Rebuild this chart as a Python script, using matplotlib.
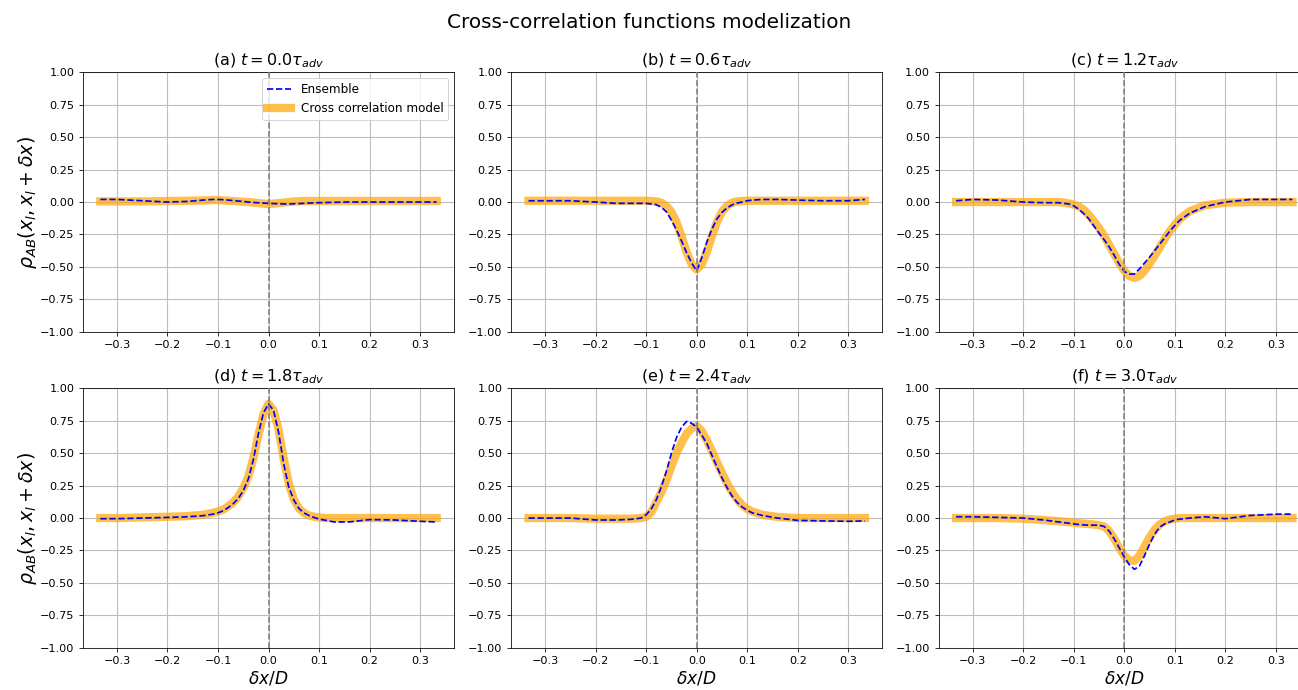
import matplotlib
matplotlib.use("Agg")
import matplotlib.pyplot as plt
import numpy as np

# Spatial separation dx/D shared by every panel
dx = [-0.333, -0.30, -0.25, -0.20, -0.16, -0.13, -0.11, -0.10, -0.09, -0.08,
      -0.07, -0.06, -0.05, -0.04, -0.03, -0.02, -0.01, 0.00, 0.01, 0.02,
      0.03, 0.04, 0.05, 0.06, 0.07, 0.08, 0.09, 0.10, 0.11, 0.13,
      0.16, 0.20, 0.25, 0.30, 0.333]

times = [0.0, 0.6, 1.2, 1.8, 2.4, 3.0]
panel_letters = ["a", "b", "c", "d", "e", "f"]

# Ensemble cross-correlation, one list per time
ens_a = [0.02, 0.02, 0.01, 0.0, 0.005, 0.015, 0.02, 0.02, 0.018, 0.015,
         0.012, 0.008, 0.005, 0.0, -0.003, -0.006, -0.008, -0.01, -0.012, -0.013,
         -0.015, -0.015, -0.013, -0.012, -0.01, -0.008, -0.006, -0.005, -0.004, -0.002,
         0.0, 0.0, 0.0, 0.0, 0.0]
ens_b = [0.01, 0.01, 0.01, 0.0, -0.01, -0.01, -0.01, -0.01, -0.015, -0.02,
         -0.04, -0.075, -0.14, -0.215, -0.30, -0.39, -0.47, -0.53, -0.43, -0.31,
         -0.21, -0.13, -0.08, -0.045, -0.022, -0.008, 0.0, 0.01, 0.015, 0.02,
         0.02, 0.015, 0.01, 0.01, 0.02]
ens_c = [0.01, 0.02, 0.015, 0.0, -0.005, -0.005, -0.015, -0.03, -0.055, -0.09,
         -0.13, -0.185, -0.24, -0.29, -0.345, -0.41, -0.48, -0.535, -0.555, -0.555,
         -0.515, -0.47, -0.425, -0.375, -0.325, -0.275, -0.225, -0.18, -0.14, -0.085,
         -0.035, 0.0, 0.02, 0.02, 0.02]
ens_d = [-0.005, -0.005, 0.0, 0.005, 0.01, 0.018, 0.03, 0.04, 0.056, 0.08,
         0.11, 0.15, 0.21, 0.30, 0.45, 0.65, 0.81, 0.88, 0.83, 0.66,
         0.42, 0.24, 0.14, 0.075, 0.04, 0.02, 0.005, -0.008, -0.015, -0.03,
         -0.03, -0.012, -0.015, -0.025, -0.03]
ens_e = [0.0, 0.0, 0.0, -0.015, -0.015, -0.01, 0.0, 0.025, 0.07, 0.14,
         0.24, 0.36, 0.50, 0.62, 0.70, 0.745, 0.73, 0.70, 0.64, 0.575,
         0.485, 0.395, 0.31, 0.235, 0.17, 0.12, 0.085, 0.06, 0.04, 0.02,
         0.0, -0.018, -0.022, -0.025, -0.022]
ens_f = [0.01, 0.01, 0.005, 0.0, -0.015, -0.03, -0.04, -0.045, -0.05, -0.053,
         -0.055, -0.055, -0.055, -0.065, -0.10, -0.16, -0.23, -0.30, -0.36, -0.395,
         -0.37, -0.29, -0.20, -0.125, -0.07, -0.045, -0.03, -0.015, -0.008, 0.0,
         0.01, -0.005, 0.02, 0.03, 0.03]

# Cross correlation model, one list per time
mod_a = [0.005, 0.005, 0.005, 0.008, 0.01, 0.012, 0.015, 0.015, 0.012, 0.01,
         0.008, 0.005, 0.002, 0.0, -0.004, -0.008, -0.012, -0.015, -0.012, -0.008,
         -0.004, 0.0, 0.004, 0.006, 0.008, 0.008, 0.008, 0.008, 0.008, 0.008,
         0.008, 0.008, 0.008, 0.008, 0.008]
mod_b = [0.01, 0.01, 0.01, 0.01, 0.01, 0.01, 0.01, 0.01, 0.008, 0.005,
         -0.005, -0.03, -0.075, -0.155, -0.265, -0.385, -0.48, -0.52, -0.48, -0.385,
         -0.265, -0.155, -0.075, -0.03, -0.005, 0.005, 0.008, 0.01, 0.01, 0.01,
         0.01, 0.01, 0.01, 0.01, 0.01]
mod_c = [0.0, 0.0, 0.0, 0.0, 0.0, 0.0, -0.01, -0.02, -0.035, -0.06,
         -0.10, -0.15, -0.20, -0.26, -0.33, -0.40, -0.47, -0.53, -0.57, -0.585,
         -0.57, -0.53, -0.475, -0.415, -0.35, -0.285, -0.225, -0.175, -0.13, -0.07,
         -0.025, -0.005, 0.0, 0.0, 0.0]
mod_d = [0.0, 0.0, 0.005, 0.01, 0.015, 0.025, 0.04, 0.05, 0.065, 0.09,
         0.12, 0.165, 0.23, 0.32, 0.46, 0.64, 0.80, 0.88, 0.83, 0.68,
         0.46, 0.27, 0.145, 0.075, 0.04, 0.02, 0.01, 0.005, 0.0, 0.0,
         0.0, 0.0, 0.0, 0.0, 0.0]
mod_e = [0.0, 0.0, 0.0, -0.005, -0.005, -0.005, 0.0, 0.01, 0.045, 0.12,
         0.20, 0.29, 0.40, 0.50, 0.58, 0.65, 0.69, 0.71, 0.67, 0.60,
         0.52, 0.43, 0.35, 0.27, 0.20, 0.145, 0.10, 0.07, 0.05, 0.025,
         0.008, 0.0, 0.0, 0.0, 0.0]
mod_f = [0.0, 0.0, 0.0, -0.005, -0.015, -0.025, -0.032, -0.036, -0.04, -0.043,
         -0.046, -0.05, -0.055, -0.065, -0.10, -0.16, -0.23, -0.29, -0.325, -0.33,
         -0.29, -0.22, -0.15, -0.09, -0.05, -0.025, -0.012, -0.005, 0.0, 0.0,
         0.0, 0.0, 0.0, 0.0, 0.0]

ensemble = [ens_a, ens_b, ens_c, ens_d, ens_e, ens_f]
model = [mod_a, mod_b, mod_c, mod_d, mod_e, mod_f]

plt.rcParams["font.family"] = ["DejaVu Sans"]
plt.rcParams["xtick.labelsize"] = 11.3
plt.rcParams["ytick.labelsize"] = 11.3
plt.rcParams["xtick.major.size"] = 4
plt.rcParams["ytick.major.size"] = 4
plt.rcParams["xtick.major.pad"] = 4.5
plt.rcParams["ytick.major.pad"] = 4.5

W, H = 1298, 690
fig = plt.figure(figsize=(W / 72, H / 72), dpi=72)

lefts = [82.9, 511.1, 938.7]
tops = [72.3, 388.3]
aw, ah = 371.2, 259.5

for i, (t, letter) in enumerate(zip(times, panel_letters)):
    r, c = divmod(i, 3)
    ax = fig.add_axes([lefts[c] / W, (H - tops[r] - ah) / H, aw / W, ah / H])
    ax.plot(dx, ensemble[i], "b--", lw=1.7, label="Ensemble", zorder=3)
    ax.plot(dx, model[i], color="orange", alpha=0.7, lw=8.3,
            label="Cross correlation model", zorder=2)
    ax.axvline(0, color="gray", ls="--", lw=1.6, zorder=4)
    ax.set_xlim(-0.3675, 0.3675)
    ax.set_ylim(-1, 1)
    ax.set_yticks(np.arange(-1, 1.01, 0.25))
    ax.set_xticks([-0.3, -0.2, -0.1, 0.0, 0.1, 0.2, 0.3])
    ax.grid(True, color="#bdbdbd", lw=1.1)
    ax.set_axisbelow(True)
    ax.set_title(rf"({letter}) $t = {t:.1f}\tau_{{adv}}$", fontsize=16, pad=6.5)
    if c == 0:
        ax.set_ylabel(r"$\rho_{AB}(x_l, x_l + \delta x)$", fontsize=19, labelpad=1)
    if r == 1:
        ax.set_xlabel(r"$\delta x/D$", fontsize=17, labelpad=3)
    if i == 0:
        ax.legend(loc="upper right", fontsize=12)

fig.suptitle("Cross-correlation functions modelization", fontsize=20,
             y=1 - 22 / H, va="center")

fig.savefig("out.png", dpi=72)
